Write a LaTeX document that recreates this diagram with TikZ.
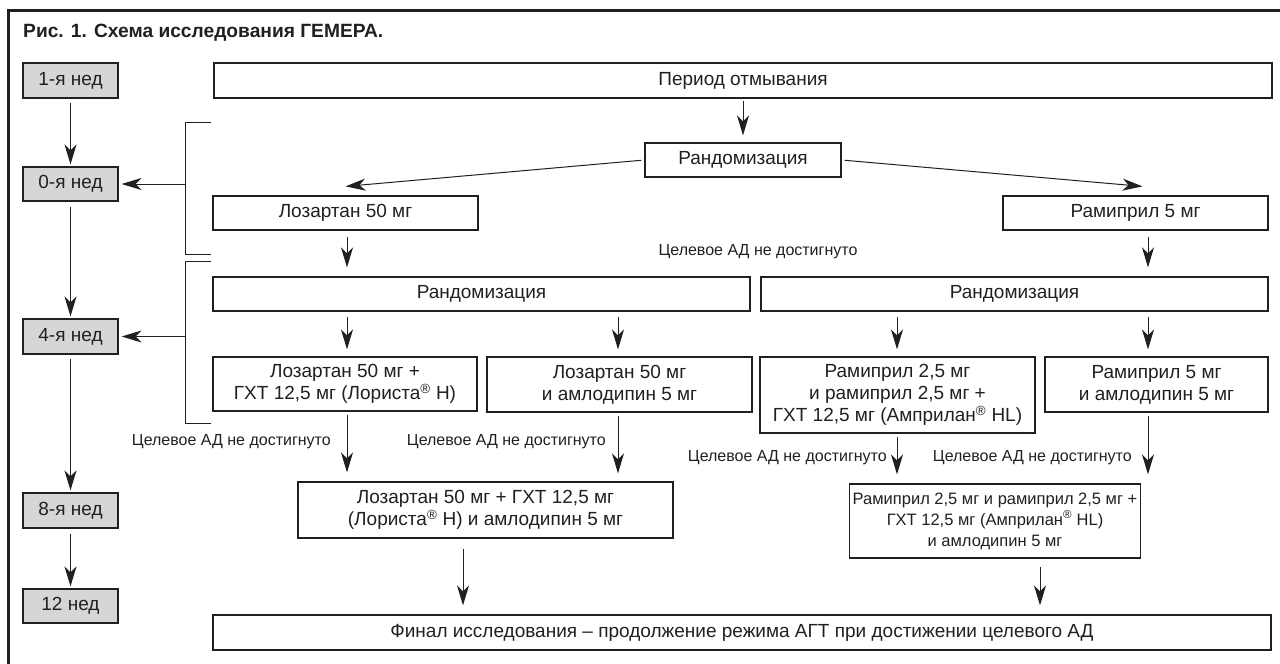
\documentclass[tikz,border=0pt]{standalone}
\usepackage{fontspec}
\setmainfont{Liberation Sans}
\usetikzlibrary{arrows.meta}
\definecolor{ink}{HTML}{231F20}
\definecolor{weekgray}{HTML}{D6D6D6}
\tikzset{
  box/.style={draw=ink, line width=1.2pt, fill=white, inner sep=0pt, align=center,
    font=\fontsize{19}{22}\selectfont, text=ink},
  week/.style={box, fill=weekgray, minimum width=95pt},
  arr/.style={draw=ink, line width=1pt, -{Stealth[length=20pt,width=12pt,inset=6pt]}},
  lbl/.style={font=\fontsize{16}{19}\selectfont, text=ink, inner sep=0pt},
  brk/.style={draw=ink, line width=1pt},
}
\begin{document}
\begin{tikzpicture}[x=1pt,y=-1pt]
\useasboundingbox (0,0) rectangle (1280,664);
% frame
\draw[ink, line width=3pt] (8.5,664) -- (8.5,10) -- (1280,10);
\node[anchor=west, inner sep=0pt, text=ink, font=\bfseries\fontsize{19.2}{22}\selectfont] (title) at (23,33) {Рис. 1. Схема исследования ГЕМЕРА.};

% weeks
\node[week, minimum height=35pt] (w1) at (70.5,80.5) {1-я нед};
\node[week, minimum height=34pt] (w0) at (70.5,184) {0-я нед};
\node[week, minimum height=35pt] (w4) at (70.5,336.5) {4-я нед};
\node[week, minimum height=35pt] (w8) at (70.5,510.5) {8-я нед};
\node[week, minimum height=34pt] (w12) at (70.5,606) {12 нед};

% main boxes
\node[box, minimum width=1058pt, minimum height=35pt] (per) at (743,80.5) {Период отмывания};
\node[box, minimum width=196pt, minimum height=34pt] (r1) at (743,160) {Рандомизация};
\node[box, minimum width=265pt, minimum height=34pt] (los) at (345.5,213) {Лозартан 50 мг};
\node[box, minimum width=265pt, minimum height=34pt] (ram) at (1135.5,213) {Рамиприл 5 мг};
\node[box, minimum width=537pt, minimum height=34pt] (r2) at (481.5,294) {Рандомизация};
\node[box, minimum width=507pt, minimum height=34pt] (r3) at (1014.5,294) {Рандомизация};
\node[box, minimum width=264pt, minimum height=54pt] (A) at (345,384) {Лозартан 50 мг +\\ГХТ 12,5 мг (Лориста\textsuperscript{®} Н)};
\node[box, minimum width=265pt, minimum height=55pt] (B) at (619.5,384.5) {Лозартан 50 мг\\и амлодипин 5 мг};
\node[box, minimum width=275pt, minimum height=76pt] (C) at (897.5,395) {Рамиприл 2,5 мг\\и рамиприл 2,5 мг +\\ГХТ 12,5 мг (Амприлан\textsuperscript{®} HL)};
\node[box, minimum width=223pt, minimum height=55pt] (D) at (1156.5,384.5) {Рамиприл 5 мг\\и амлодипин 5 мг};
\node[box, minimum width=375pt, minimum height=56pt] (E) at (485.5,510) {Лозартан 50 мг + ГХТ 12,5 мг\\(Лориста\textsuperscript{®} Н) и амлодипин 5 мг};
\node[box, minimum width=291pt, minimum height=74pt, font=\fontsize{16.5}{21}\selectfont] (F) at (995,521) {Рамиприл 2,5 мг и рамиприл 2,5 мг +\\ГХТ 12,5 мг (Амприлан\textsuperscript{®} HL)\\и амлодипин 5 мг};
\node[box, minimum width=1058pt, minimum height=35pt] (fin) at (742,632.5) {Финал исследования – продолжение режима АГТ при достижении целевого АД};

% labels
\node[lbl] (l0) at (758,252) {Целевое АД не достигнуто};
\node[lbl, anchor=east] (l1) at (331,442) {Целевое АД не достигнуто};
\node[lbl, anchor=east] (l2) at (606,442) {Целевое АД не достигнуто};
\node[lbl, anchor=east] (l3) at (887,458) {Целевое АД не достигнуто};
\node[lbl, anchor=east] (l4) at (1132,458) {Целевое АД не достигнуто};

% brackets
\draw[brk] (211,122) -- (185,122) -- (185,254) -- (211,254);
\draw[brk] (211,261) -- (185,261) -- (185,423) -- (211,423);
\coordinate (b1m) at (185,184);
\coordinate (b2m) at (185,336.5);
\draw[arr, shorten >=3pt] (b1m) -- (w0.east);
\draw[arr, shorten >=3pt] (b2m) -- (w4.east);

% week arrows
\draw[arr, shorten <=4pt, shorten >=2pt] (w1) -- (w0);
\draw[arr, shorten <=5pt, shorten >=2pt] (w0) -- (w4);
\draw[arr, shorten <=4pt, shorten >=2pt] (w4) -- (w8);
\draw[arr, shorten <=5pt, shorten >=2pt] (w8) -- (w12);

% columns
\coordinate (xa) at (347,0);
\coordinate (xb) at (618,0);
\coordinate (xc) at (897,0);
\coordinate (xd) at (1148,0);
\coordinate (xe) at (463,0);
\coordinate (xf) at (1040,0);

% main arrows
\draw[arr, shorten <=2pt, shorten >=7pt] (per) -- (r1);
\draw[arr, shorten <=3pt] (r1.west) -- ([yshift=9pt]los.north);
\draw[arr, shorten <=3pt] (r1.east) -- ([xshift=7pt,yshift=9pt]ram.north);
\draw[arr, shorten <=6pt, shorten >=9pt] (los.south -| xa) -- (r2.north -| xa);
\draw[arr, shorten <=6pt, shorten >=9pt] (ram.south -| xd) -- (r3.north -| xd);
\draw[arr, shorten <=5pt, shorten >=7pt] (r2.south -| xa) -- (A.north -| xa);
\draw[arr, shorten <=5pt, shorten >=7pt] (r2.south -| xb) -- (B.north -| xb);
\draw[arr, shorten <=5pt, shorten >=7pt] (r3.south -| xc) -- (C.north -| xc);
\draw[arr, shorten <=5pt, shorten >=7pt] (r3.south -| xd) -- (D.north -| xd);
\draw[arr, shorten <=3pt, shorten >=9pt] (A.south -| xa) -- (E.north -| xa);
\draw[arr, shorten <=3pt, shorten >=8pt] (B.south -| xb) -- (E.north -| xb);
\draw[arr, shorten <=3pt, shorten >=9pt] (C.south -| xc) -- (F.north -| xc);
\draw[arr, shorten <=3pt, shorten >=9pt] (D.south -| xd) -- (F.north -| xd);
\draw[arr, shorten <=10pt, shorten >=9pt] (E.south -| xe) -- (fin.north -| xe);
\draw[arr, shorten <=8pt, shorten >=9pt] (F.south -| xf) -- (fin.north -| xf);
\end{tikzpicture}
\end{document}
